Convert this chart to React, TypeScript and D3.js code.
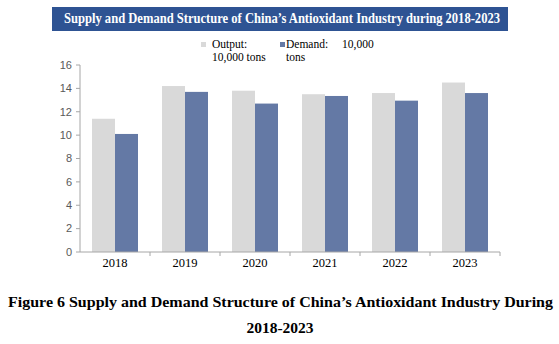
import React from "react";
import * as d3 from "d3";

const years = ["2018", "2019", "2020", "2021", "2022", "2023"];
const outputValues = [11.4, 14.2, 13.8, 13.5, 13.6, 14.5];
const demandValues = [10.1, 13.7, 12.7, 13.35, 12.95, 13.6];
const yTicks = [0, 2, 4, 6, 8, 10, 12, 14, 16];
const seriesNames = ["Output", "Demand"];

const W = 559;
const H = 344;
const plotLeft = 80;
const plotRight = 500;
const plotTop = 65;
const plotBottom = 252;

const OUTPUT_COLOR = "#d9d9d9";
const DEMAND_COLOR = "#6479a5";
const TITLE_BG = "#2e5393";
const AXIS_COLOR = "#a6a6a6";
const SERIF = "'Liberation Serif', 'Times New Roman', serif";

export default function App() {
  const x = d3.scaleBand<string>().domain(years).range([plotLeft, plotRight]).paddingInner(0).paddingOuter(0);
  const inner = d3
    .scaleBand<string>()
    .domain(seriesNames)
    .range([12, x.bandwidth() - 12]);
  const y = d3.scaleLinear().domain([0, 16]).range([plotBottom, plotTop]);

  const boundaries = years.map((yr) => (x(yr) as number) + x.bandwidth());

  return (
    <svg
      width={W}
      height={H}
      style={{ position: "absolute", left: 0, top: 0, background: "#fff" }}
    >
      <rect x={0} y={0} width={W} height={H} fill="#fff" />
      {/* Title bar */}
      <rect x={52} y={7} width={456} height={24} fill={TITLE_BG} />
      <text
        x={64}
        y={23}
        fill="#fff"
        fontFamily={SERIF}
        fontWeight="bold"
        fontSize={14}
        textLength={436}
        lengthAdjust="spacingAndGlyphs"
      >
        Supply and Demand Structure of China’s Antioxidant Industry during 2018-2023
      </text>

      {/* Legend */}
      <g fontFamily={SERIF} fontSize={11.5} fill="#000">
        <rect x={201} y={42} width={5} height={5} fill={OUTPUT_COLOR} />
        <text x={212} y={48}>Output:</text>
        <text x={212} y={61}>10,000 tons</text>
        <rect x={280} y={42} width={5} height={5} fill={DEMAND_COLOR} />
        <text x={286} y={48}>Demand:</text>
        <text x={342} y={48}>10,000</text>
        <text x={286} y={61}>tons</text>
      </g>

      {/* Bars */}
      {years.map((yr, i) => {
        const gx = x(yr) as number;
        return (
          <g key={yr}>
            <rect
              x={gx + (inner("Output") as number)}
              y={y(outputValues[i])}
              width={inner.bandwidth()}
              height={plotBottom - y(outputValues[i])}
              fill={OUTPUT_COLOR}
            />
            <rect
              x={gx + (inner("Demand") as number)}
              y={y(demandValues[i])}
              width={inner.bandwidth()}
              height={plotBottom - y(demandValues[i])}
              fill={DEMAND_COLOR}
            />
          </g>
        );
      })}

      {/* Y axis */}
      <line x1={plotLeft} x2={plotLeft} y1={plotTop} y2={plotBottom} stroke={AXIS_COLOR} strokeWidth={1} />
      {yTicks.map((t) => (
        <g key={t}>
          <line x1={plotLeft - 4} x2={plotLeft} y1={y(t)} y2={y(t)} stroke={AXIS_COLOR} strokeWidth={1} />
          <text
            x={plotLeft - 8}
            y={y(t)}
            dy="0.35em"
            textAnchor="end"
            fontFamily="'Liberation Sans', Arial, sans-serif"
            fontSize={11}
            fill="#595959"
          >
            {t}
          </text>
        </g>
      ))}

      {/* X axis */}
      <line x1={plotLeft} x2={plotRight} y1={plotBottom} y2={plotBottom} stroke={AXIS_COLOR} strokeWidth={1} />
      {boundaries.map((bx, i) => (
        <line key={i} x1={bx} x2={bx} y1={plotBottom} y2={plotBottom + 4} stroke={AXIS_COLOR} strokeWidth={1} />
      ))}
      {years.map((yr) => (
        <text
          key={yr}
          x={(x(yr) as number) + x.bandwidth() / 2}
          y={267}
          textAnchor="middle"
          fontFamily={SERIF}
          fontSize={12.5}
          fill="#000"
        >
          {yr}
        </text>
      ))}

      {/* Caption */}
      <text
        x={8}
        y={307}
        fontFamily={SERIF}
        fontWeight="bold"
        fontSize={15.5}
        fill="#000"
        textLength={545}
        lengthAdjust="spacingAndGlyphs"
      >
        Figure 6 Supply and Demand Structure of China’s Antioxidant Industry During
      </text>
      <text
        x={280}
        y={333}
        textAnchor="middle"
        fontFamily={SERIF}
        fontWeight="bold"
        fontSize={15.5}
        fill="#000"
      >
        2018-2023
      </text>
    </svg>
  );
}
